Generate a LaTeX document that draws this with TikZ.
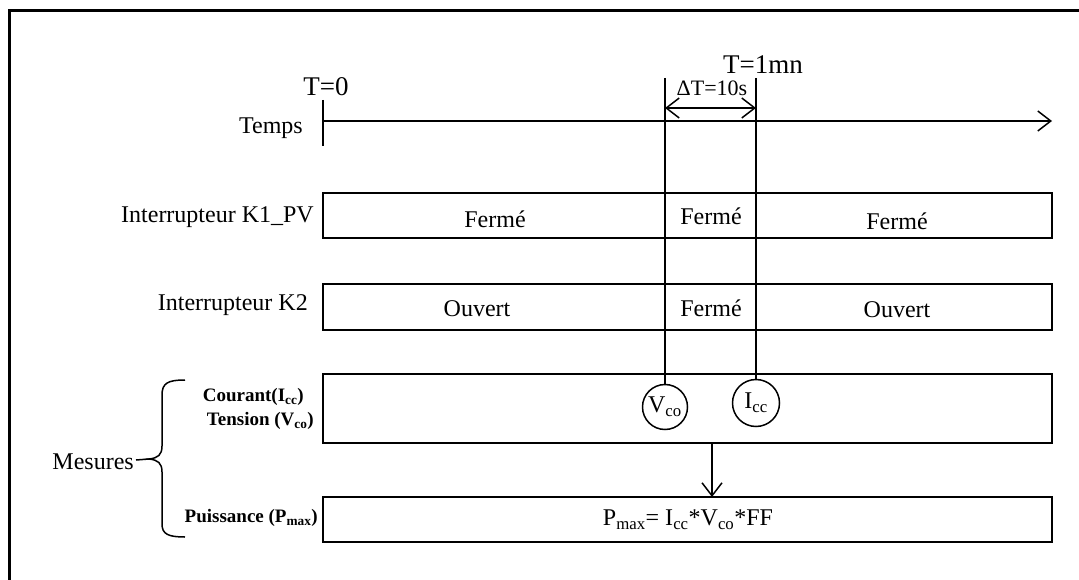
\documentclass[tikz,border=0pt]{standalone}
\usepackage{fontspec}
\setmainfont{Liberation Serif}
\usetikzlibrary{arrows.meta}
\begin{document}
\begin{tikzpicture}[x=1pt,y=-1pt,
  box/.style={draw, line width=1.5pt, inner sep=0pt, outer sep=0pt},
  ln/.style={line width=1.5pt},
  tip/.style={-{Straight Barb[length=13pt,width=20pt,line width=1.5pt]}},
  big/.style={font=\fontsize{24}{28}\selectfont, inner sep=0pt},
  tlab/.style={font=\fontsize{27}{30}\selectfont, inner sep=0pt},
  small/.style={font=\fontsize{19}{22}\selectfont\bfseries, inner sep=0pt},
  meas/.style={draw, circle, line width=1.5pt, inner sep=0pt, font=\fontsize{24}{28}\selectfont}
]
\useasboundingbox (0,0) rectangle (1079,580);
% frame
\draw[line width=3pt] (9,580) -- (9,11) -- (1079,11);

% time axis
\coordinate (t0) at (323,121);
\coordinate (tend) at (1052,121);
\coordinate (tickA) at (323,100);
\coordinate (tickB) at (323,146);
\draw[ln, tip] (t0) -- (tend);
\draw[ln] (tickA) -- (tickB);
\node[tlab] (T0) at (326,87) {T=0};
\node[big, anchor=east] (temps) at (303,128) {Temps};
\node[tlab] (T1) at (763,65) {T=1mn};
\node[big, font=\fontsize{22}{24}\selectfont] (dT) at (712,88) {ΔT=10s};

% boxes
\node[box, minimum width=729pt, minimum height=45pt] (k1) at (687.5,215.5) {};
\node[box, minimum width=729pt, minimum height=46pt] (k2) at (687.5,307) {};
\node[box, minimum width=729pt, minimum height=69pt] (mes) at (687.5,408.5) {};
\node[box, minimum width=729pt, minimum height=45pt] (pw) at (687.5,519.5) {};

% circles
\node[meas, minimum size=45pt] (vco) at (665,407) {\raisebox{-2pt}{V\textsubscript{co}}};
\node[meas, minimum size=47pt] (icc) at (756,403) {\raisebox{-3pt}{I\textsubscript{cc}}};

% vertical markers
\coordinate (vA) at (665,78);
\coordinate (vB) at (756,78);
\draw[ln] (vA) -- (vco.north);
\draw[ln] (vB) -- (icc.north);
\coordinate (dA) at (665,108);
\coordinate (dB) at (756,108);
\draw[ln, {Straight Barb[length=13pt,width=20pt,line width=1.5pt]}-{Straight Barb[length=13pt,width=20pt,line width=1.5pt]}] (dA) -- (dB);

% arrow to power box
\coordinate (aA) at (712,443);
\draw[ln, tip] (aA) -- (pw.north -| aA);

% box texts
\node[big] (f1) at (495,219) {Fermé};
\node[big] (f2) at (711,216) {Fermé};
\node[big] (f3) at (897,221) {Fermé};
\node[big] (o1) at (477,309) {Ouvert};
\node[big] (f4) at (711,308) {Fermé};
\node[big] (o2) at (897,310) {Ouvert};
\node[big] (pmax) at (688,520) {P\textsubscript{max}= I\textsubscript{cc}*V\textsubscript{co}*FF};

% left labels
\node[big, anchor=east] (lk1) at (314,217) {Interrupteur K1\_PV};
\node[big, anchor=east] (lk2) at (308,305) {Interrupteur K2};
\node[small, anchor=east] (lc) at (304,397) {Courant(I\textsubscript{cc})};
\node[small, anchor=east] (lt) at (314,421) {Tension (V\textsubscript{co})};
\node[small, anchor=east] (lp) at (318,518) {Puissance (P\textsubscript{max})};

% brace
\draw[ln] (185,380) .. controls (168,380) and (162,383) .. (162,395) -- (162,446)
  .. controls (162,455) and (158,458) .. (149,459)
  .. controls (158,460) and (162,463) .. (162,472) -- (162,524)
  .. controls (162,534) and (168,537) .. (185,537);
\coordinate (btip) at (149,459);
\node[big, anchor=east] (mesures) at (134,462) {Mesures};
\draw[ln] (mesures.east) ++(2,-2) coordinate (mA) (mA) -- (btip);
\end{tikzpicture}
\end{document}
